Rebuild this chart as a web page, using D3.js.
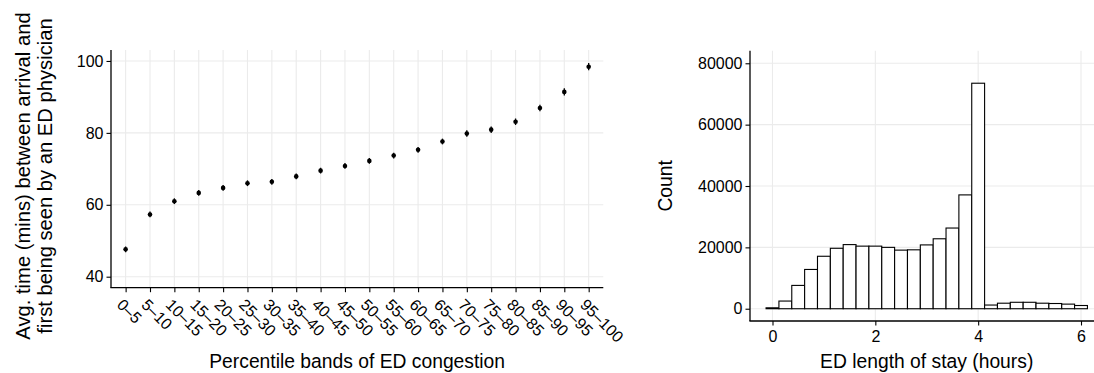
<!DOCTYPE html>
<html><head><meta charset="utf-8">
<script src="https://cdn.jsdelivr.net/npm/d3@7"></script>
<style>body{margin:0;background:#fff}svg{display:block}text{font-family:"Liberation Sans",Arial,Helvetica,sans-serif;fill:#000}</style>
</head><body><svg id="c" width="1094" height="373"></svg>
<script>
// ---- Left panel data ----
const bands = ["0–5","5–10","10–15","15–20","20–25","25–30","30–35","35–40","40–45","45–50","50–55","55–60","60–65","65–70","70–75","75–80","80–85","85–90","90–95","95–100"];
const waitMeans = [47.6,57.3,61.0,63.3,64.7,66.0,66.4,67.9,69.5,70.8,72.2,73.7,75.3,77.6,79.8,80.9,83.1,86.9,91.4,98.4];
const waitErr = [0.8,0.8,0.8,0.8,0.8,0.8,0.8,0.8,0.8,0.8,0.8,0.8,0.8,0.8,0.9,0.9,0.9,0.9,1.0,1.0];
const leftYTicks = [40,60,80,100];
// ---- Right panel data ----
const losBinCenters = [0,0.25,0.5,0.75,1,1.25,1.5,1.75,2,2.25,2.5,2.75,3,3.25,3.5,3.75,4,4.25,4.5,4.75,5,5.25,5.5,5.75,6];
const losCounts = [300,2500,7600,12800,17100,19700,20900,20400,20400,20000,19100,19200,20800,22800,26300,37100,73500,1200,1800,2100,2100,1800,1700,1500,1050];
const binWidth = 0.25;
const rightYTicks = [0,20000,40000,60000,80000];
const rightXTicks = [0,2,4,6];

const svg = d3.select("#c");
const grid = "#ebebeb";
const tickFs = 16, titleFs = 19.3, yTitleFs = 20.2;

// ===== Left panel =====
const L = {left:111, right:603.3, top:50, bottom:287.7};
const x1 = d3.scalePoint().domain(bands).range([L.left, L.right]).padding(0.6);
const y1 = d3.scaleLinear().domain([36.94, 103.05]).range([L.bottom, L.top]);
const g1 = svg.append("g");
g1.selectAll("line.hg").data(leftYTicks).join("line")
  .attr("x1",L.left).attr("x2",L.right).attr("y1",d=>y1(d)).attr("y2",d=>y1(d))
  .attr("stroke",grid).attr("stroke-width",1.1);
g1.selectAll("line.vg").data(bands).join("line")
  .attr("x1",d=>x1(d)).attr("x2",d=>x1(d)).attr("y1",L.top).attr("y2",L.bottom)
  .attr("stroke",grid).attr("stroke-width",1.1);
g1.selectAll("line.eb").data(bands).join("line")
  .attr("x1",d=>x1(d)).attr("x2",d=>x1(d))
  .attr("y1",(d,i)=>y1(waitMeans[i]-waitErr[i])).attr("y2",(d,i)=>y1(waitMeans[i]+waitErr[i]))
  .attr("stroke","#000").attr("stroke-width",1.3);
g1.selectAll("circle").data(bands).join("circle")
  .attr("cx",d=>x1(d)).attr("cy",(d,i)=>y1(waitMeans[i])).attr("r",2.3).attr("fill","#000");
const ax1y = g1.append("g").attr("transform",`translate(${L.left},0)`)
  .call(d3.axisLeft(y1).tickValues(leftYTicks).tickSize(4.5).tickPadding(3));
const ax1x = g1.append("g").attr("transform",`translate(0,${L.bottom})`)
  .call(d3.axisBottom(x1).tickSize(4.5).tickPadding(3));
[ax1y,ax1x].forEach(a=>{
  a.select(".domain").attr("stroke","#000").attr("stroke-width",1.3);
  a.selectAll(".tick line").attr("stroke","#000").attr("stroke-width",1.1);
  a.selectAll("text").attr("font-size",tickFs).attr("fill","#000").attr("font-family",null);
});
ax1y.select(".domain").attr("d",`M0,${L.bottom}V${L.top}`);
ax1x.select(".domain").attr("d",`M${L.left-0.6},0H${L.right}`);
ax1x.selectAll(".tick text")
  .attr("text-anchor","start").attr("y",0).attr("dy","0.71em")
  .attr("transform","translate(-2,10) rotate(45)");
g1.append("text").attr("x",(L.left+L.right)/2).attr("y",368).attr("text-anchor","middle")
  .attr("font-size",titleFs).text("Percentile bands of ED congestion");
const yTitleMid = 176;
g1.append("text").attr("transform",`translate(30,${yTitleMid}) rotate(-90)`)
  .attr("text-anchor","middle").attr("font-size",yTitleFs).text("Avg. time (mins) between arrival and");
g1.append("text").attr("transform",`translate(51.5,${yTitleMid}) rotate(-90)`)
  .attr("text-anchor","middle").attr("font-size",yTitleFs).text("first being seen by an ED physician");

// ===== Right panel =====
const R = {left:750, right:1103.5, top:50.7, bottom:321};
const x2 = d3.scaleLinear().domain([-0.4375, 6.4375]).range([R.left, R.right]);
const y2 = d3.scaleLinear().domain([-4000, 84100]).range([R.bottom, R.top]);
const g2 = svg.append("g");
g2.selectAll("line.hg").data(rightYTicks).join("line")
  .attr("x1",R.left).attr("x2",R.right).attr("y1",d=>y2(d)).attr("y2",d=>y2(d))
  .attr("stroke",grid).attr("stroke-width",1.1);
g2.selectAll("line.vg").data(rightXTicks).join("line")
  .attr("x1",d=>x2(d)).attr("x2",d=>x2(d)).attr("y1",R.top).attr("y2",R.bottom)
  .attr("stroke",grid).attr("stroke-width",1.1);
g2.selectAll("rect").data(losBinCenters).join("rect")
  .attr("x",d=>x2(d-binWidth/2)).attr("width",d=>x2(d+binWidth/2)-x2(d-binWidth/2))
  .attr("y",(d,i)=>y2(losCounts[i])).attr("height",(d,i)=>y2(0)-y2(losCounts[i]))
  .attr("fill","#fff").attr("stroke","#000").attr("stroke-width",1.1);
const ax2y = g2.append("g").attr("transform",`translate(${R.left},0)`)
  .call(d3.axisLeft(y2).tickValues(rightYTicks).tickFormat(d3.format("d")).tickSize(4.5).tickPadding(3));
const ax2x = g2.append("g").attr("transform",`translate(0,${R.bottom})`)
  .call(d3.axisBottom(x2).tickValues(rightXTicks).tickFormat(d3.format("d")).tickSize(4.5).tickPadding(5));
[ax2y,ax2x].forEach(a=>{
  a.select(".domain").attr("stroke","#000").attr("stroke-width",1.3);
  a.selectAll(".tick line").attr("stroke","#000").attr("stroke-width",1.1);
  a.selectAll("text").attr("font-size",tickFs).attr("fill","#000").attr("font-family",null);
});
ax2y.select(".domain").attr("d",`M0,${R.bottom}V${R.top}`);
ax2x.select(".domain").attr("d",`M${R.left-0.6},0H${R.right}`);
g2.append("text").attr("x",926.7).attr("y",368).attr("text-anchor","middle")
  .attr("font-size",titleFs).text("ED length of stay (hours)");
g2.append("text").attr("transform",`translate(672,${(R.top+R.bottom)/2}) rotate(-90)`)
  .attr("text-anchor","middle").attr("font-size",titleFs).text("Count");
</script></body></html>
